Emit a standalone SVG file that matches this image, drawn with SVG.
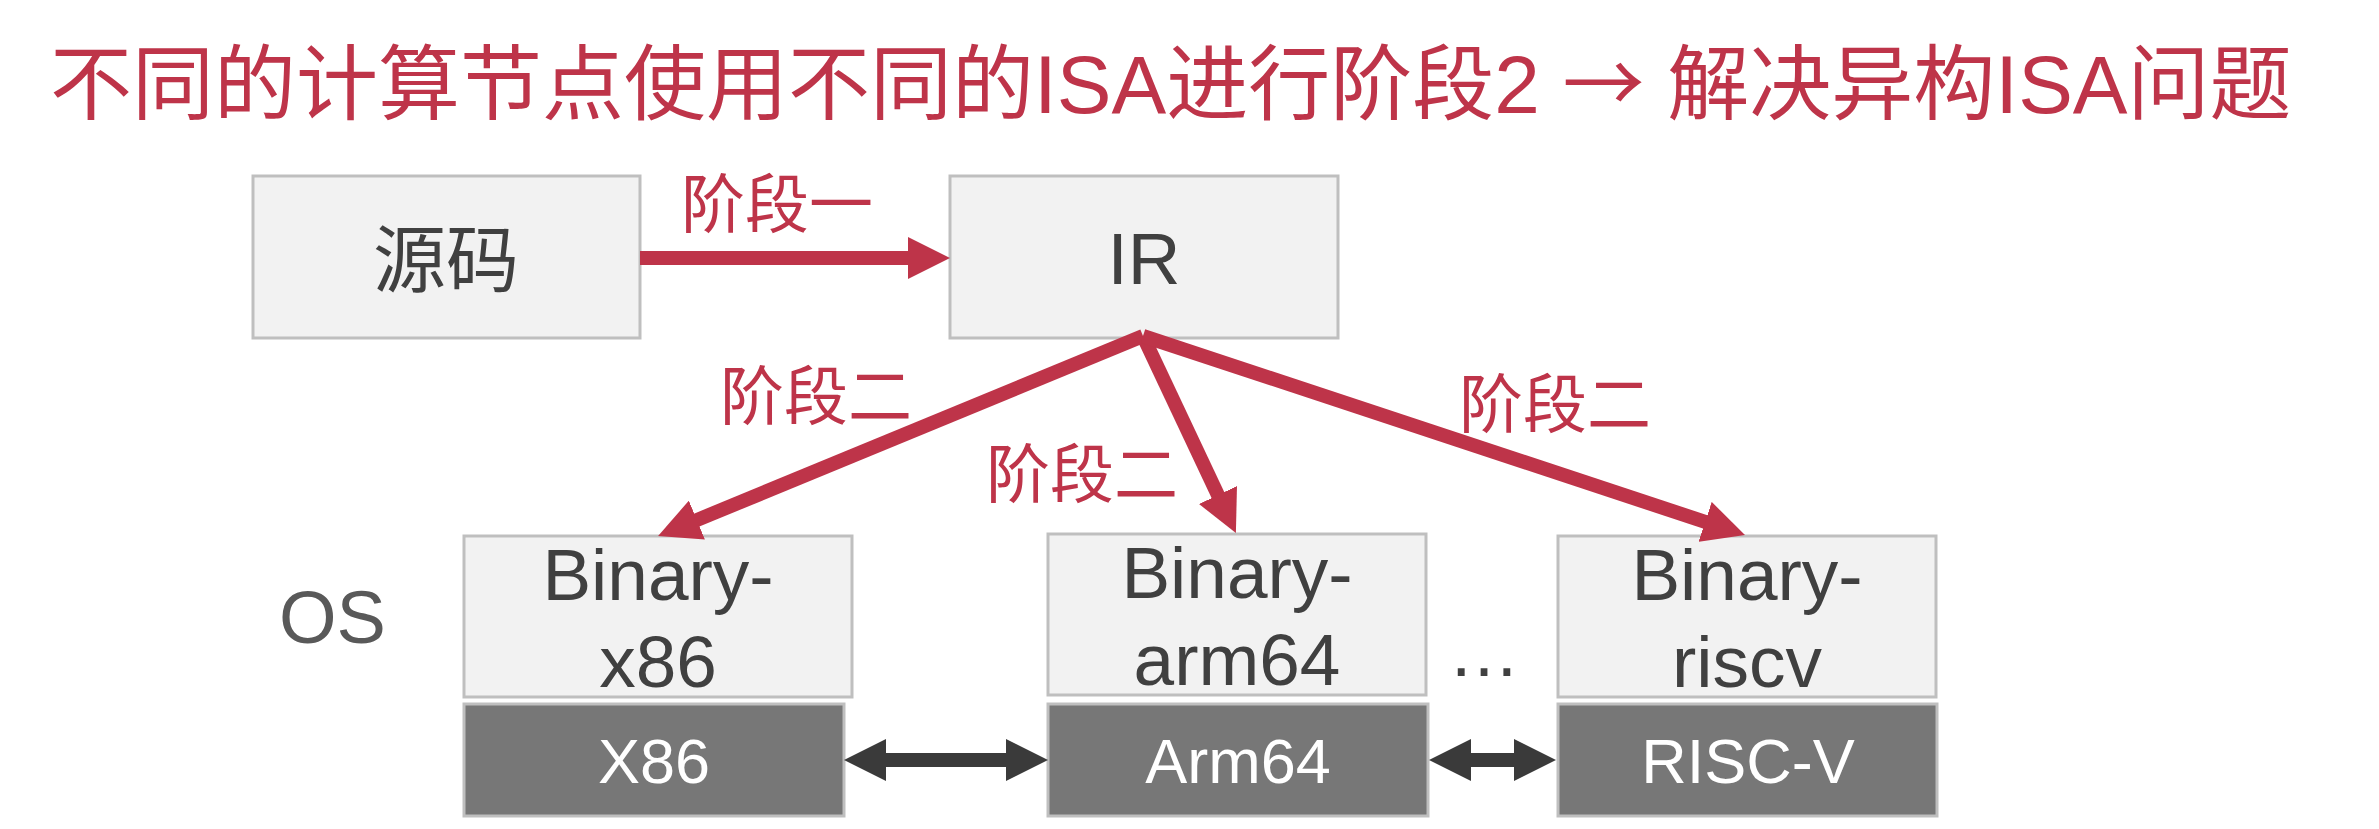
<svg xmlns="http://www.w3.org/2000/svg" width="2379" height="829" viewBox="0 0 2379 829">
  <style>
    .t { font-family: "Liberation Sans", "Noto Sans CJK SC", sans-serif; }
    .title { font-size: 82px; fill: #BE3449; }
    .arrowglyph { font-family: "Noto Sans CJK SC", sans-serif; }
    .lbl { font-size: 64px; fill: #BE3449; text-anchor: middle; }
    .light rect { fill: #F2F2F2; stroke: #BFBFBF; stroke-width: 3; }
    .dark rect { fill: #777777; stroke: #BFBFBF; stroke-width: 3; }
    .light text { font-size: 73px; fill: #404040; text-anchor: middle; }
    .dark text { font-size: 63px; fill: #FFFFFF; text-anchor: middle; }
    .red { stroke: #BE3449; stroke-width: 14; fill: none; }
    .blk { stroke: #3A3A3A; stroke-width: 14; fill: none; }
  </style>
  <defs>
    <marker id="ar" markerUnits="userSpaceOnUse" markerWidth="42" markerHeight="42" viewBox="0 0 42 42" refX="12" refY="21" orient="auto">
      <path d="M0,0 L42,21 L0,42 z" fill="#BE3449"/>
    </marker>
    <marker id="ak" markerUnits="userSpaceOnUse" markerWidth="42" markerHeight="42" viewBox="0 0 42 42" refX="12" refY="21" orient="auto-start-reverse">
      <path d="M0,0 L42,21 L0,42 z" fill="#3A3A3A"/>
    </marker>
  </defs>
  <rect width="2379" height="829" fill="#FFFFFF"/>

  <text id="title" class="t title" x="50" y="113">不同的计算节点使用不同的ISA进行阶段2 <tspan class="arrowglyph">→</tspan> 解决异构ISA问题</text>

  <g id="src" class="light">
    <rect x="253" y="176" width="387" height="162"/>
    <text class="t" x="446" y="286" font-size="74">源码</text>
  </g>
  <g id="ir" class="light">
    <rect x="950" y="176" width="388" height="162"/>
    <text class="t" x="1144" y="284">IR</text>
  </g>

  <g id="os-label">
    <text class="t" x="279" y="643" font-size="74" fill="#595959">OS</text>
  </g>

  <g id="bin-x86" class="light">
    <rect x="464" y="536" width="388" height="161"/>
    <text class="t" x="658" y="600">Binary-</text>
    <text class="t" x="658" y="687">x86</text>
  </g>
  <g id="bin-arm64" class="light">
    <rect x="1048" y="534" width="378" height="161"/>
    <text class="t" x="1237" y="598">Binary-</text>
    <text class="t" x="1237" y="685">arm64</text>
  </g>
  <g id="ellipsis">
    <text class="t" x="1484" y="676" font-size="72" fill="#404040" text-anchor="middle">…</text>
  </g>
  <g id="bin-riscv" class="light">
    <rect x="1558" y="536" width="378" height="161"/>
    <text class="t" x="1747" y="600">Binary-</text>
    <text class="t" x="1747" y="687">riscv</text>
  </g>

  <g id="hw-x86" class="dark">
    <rect x="464" y="704" width="380" height="112"/>
    <text class="t" x="654" y="783">X86</text>
  </g>
  <g id="hw-arm64" class="dark">
    <rect x="1048" y="704" width="380" height="112"/>
    <text class="t" x="1238" y="783">Arm64</text>
  </g>
  <g id="hw-riscv" class="dark">
    <rect x="1558" y="704" width="379" height="112"/>
    <text class="t" x="1748" y="783">RISC-V</text>
  </g>

  <g id="connectors">
    <line class="red" x1="640" y1="258" x2="920" y2="258" marker-end="url(#ar)"/>
    <line class="red" x1="1143" y1="336" x2="685.8" y2="524.6" marker-end="url(#ar)"/>
    <line class="red" x1="1143" y1="336" x2="1223.1" y2="505.9" marker-end="url(#ar)"/>
    <line class="red" x1="1143" y1="336" x2="1716.5" y2="525.6" marker-end="url(#ar)"/>
    <line class="blk" x1="874" y1="760" x2="1018" y2="760" marker-start="url(#ak)" marker-end="url(#ak)"/>
    <line class="blk" x1="1459" y1="760" x2="1526" y2="760" marker-start="url(#ak)" marker-end="url(#ak)"/>
    <text class="t lbl" x="777" y="227">阶段一</text>
    <text class="t lbl" x="816" y="419">阶段二</text>
    <text class="t lbl" x="1082" y="497">阶段二</text>
    <text class="t lbl" x="1555" y="427">阶段二</text>
  </g>
</svg>
